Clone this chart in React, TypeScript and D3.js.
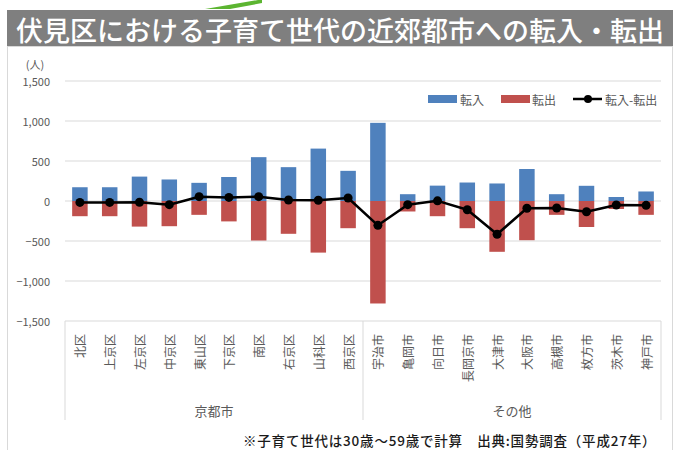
import React from "react";
import * as d3 from "d3";

const categories = ["北区","上京区","左京区","中京区","東山区","下京区","南区","右京区","山科区","西京区","宇治市","亀岡市","向日市","長岡京市","大津市","大阪市","高槻市","枚方市","茨木市","神戸市"];
const groups = [
  { name: "京都市", from: 0, to: 10 },
  { name: "その他", from: 10, to: 20 },
];
const inflow = [172,172,305,269,227,300,548,423,655,377,977,85,192,231,219,400,85,190,50,119];
const outflow = [-190,-190,-320,-315,-173,-255,-494,-410,-645,-340,-1281,-131,-190,-340,-635,-490,-173,-325,-100,-173];
const net = [-18,-18,-15,-46,54,45,54,13,10,37,-304,-46,2,-109,-416,-90,-88,-135,-50,-54];
const yTicks = [1500,1000,500,0,-500,-1000,-1500];
const legendItems = ["転入","転出","転入-転出"];

const BLUE = "#4f81bd";
const RED = "#c0504d";
const GRID = "#d9d9d9";
const TXT = "#595959";
const FONT = "'Noto Sans CJK JP', 'Noto Sans', sans-serif";

export default function App() {
  const x = d3.scaleBand<string>().domain(categories).range([65, 661]).paddingInner(0.48).paddingOuter(0.24);
  const xb = d3.scaleBand<string>().domain(categories).range([65, 661]);
  const y = d3.scaleLinear().domain([-1500, 1500]).range([321, 81]);
  const fmt = d3.format(",");
  const line = d3.line<number>().x((_, i) => (xb(categories[i]) as number) + xb.bandwidth() / 2).y((d) => y(d));

  return (
    <svg width={680} height={450} style={{ position: "absolute", left: 0, top: 0, fontFamily: FONT }}>
      <rect x={0} y={0} width={680} height={450} fill="#fff" />
      <polygon points="205,9 258,0 262,0 262,3 230,9" fill="#5cb531" />
      <rect x={7.5} y={46.5} width={665} height={410} fill="#fff" stroke={GRID} />
      <rect x={7} y={10} width={666} height={36} fill="#7f7f7f" />
      <text x={16} y={29} fill="#fff" fontSize={27} fontWeight={500} dominantBaseline="central">伏見区における子育て世代の近郊都市への転入・転出</text>

      {/* gridlines */}
      {yTicks.map((t) => (
        <line key={t} x1={65} x2={661} y1={y(t)} y2={y(t)} stroke={GRID} strokeWidth={1} />
      ))}
      {yTicks.map((t) => (
        <text key={"l" + t} x={50} y={y(t)} fill={TXT} fontSize={11} textAnchor="end" dominantBaseline="central">{fmt(t)}</text>
      ))}
      <text x={35} y={64} fill={TXT} fontSize={11} textAnchor="middle" dominantBaseline="central">(人)</text>

      {/* category axis box */}
      <line x1={65} x2={65} y1={321} y2={420} stroke={GRID} />
      <line x1={xb(categories[10])} x2={xb(categories[10])} y1={321} y2={420} stroke={GRID} />
      <line x1={661} x2={661} y1={321} y2={420} stroke={GRID} />

      {/* bars */}
      {categories.map((c, i) => (
        <g key={c}>
          <rect x={x(c)} width={x.bandwidth()} y={y(inflow[i])} height={y(0) - y(inflow[i])} fill={BLUE} />
          <rect x={x(c)} width={x.bandwidth()} y={y(0)} height={y(outflow[i]) - y(0)} fill={RED} />
        </g>
      ))}

      {/* net line */}
      <path d={line(net) || ""} fill="none" stroke="#000" strokeWidth={2.5} strokeLinejoin="round" />
      {net.map((v, i) => (
        <circle key={i} cx={(xb(categories[i]) as number) + xb.bandwidth() / 2} cy={y(v)} r={4.5} fill="#000" />
      ))}

      {/* category labels */}
      {categories.map((c) => {
        const cx = (xb(c) as number) + xb.bandwidth() / 2;
        return (
          <text key={"c" + c} transform={`translate(${cx},334) rotate(-90)`} fill={TXT} fontSize={12} textAnchor="end" dominantBaseline="central">{c}</text>
        );
      })}
      {groups.map((g) => {
        const x0 = xb(categories[g.from]) as number;
        const x1 = g.to < categories.length ? (xb(categories[g.to]) as number) : 661;
        return (
          <text key={g.name} x={(x0 + x1) / 2} y={410} fill={TXT} fontSize={13} textAnchor="middle" dominantBaseline="central">{g.name}</text>
        );
      })}

      {/* legend */}
      <rect x={428} y={95} width={29} height={8} fill={BLUE} />
      <text x={460} y={99} fill={TXT} fontSize={12} dominantBaseline="central">{legendItems[0]}</text>
      <rect x={501} y={95} width={29} height={8} fill={RED} />
      <text x={532} y={99} fill={TXT} fontSize={12} dominantBaseline="central">{legendItems[1]}</text>
      <line x1={573} x2={602} y1={99} y2={99} stroke="#000" strokeWidth={2.5} />
      <circle cx={588} cy={99} r={4} fill="#000" />
      <text x={605} y={99} fill={TXT} fontSize={12} dominantBaseline="central">{legendItems[2]}</text>

      {/* note */}
      <text x={243} y={440} fill="#1a1a1a" fontSize={13.5} fontWeight={500} letterSpacing={0.8} dominantBaseline="central">※子育て世代は30歳～59歳で計算　出典:国勢調査（平成27年）</text>
    </svg>
  );
}
